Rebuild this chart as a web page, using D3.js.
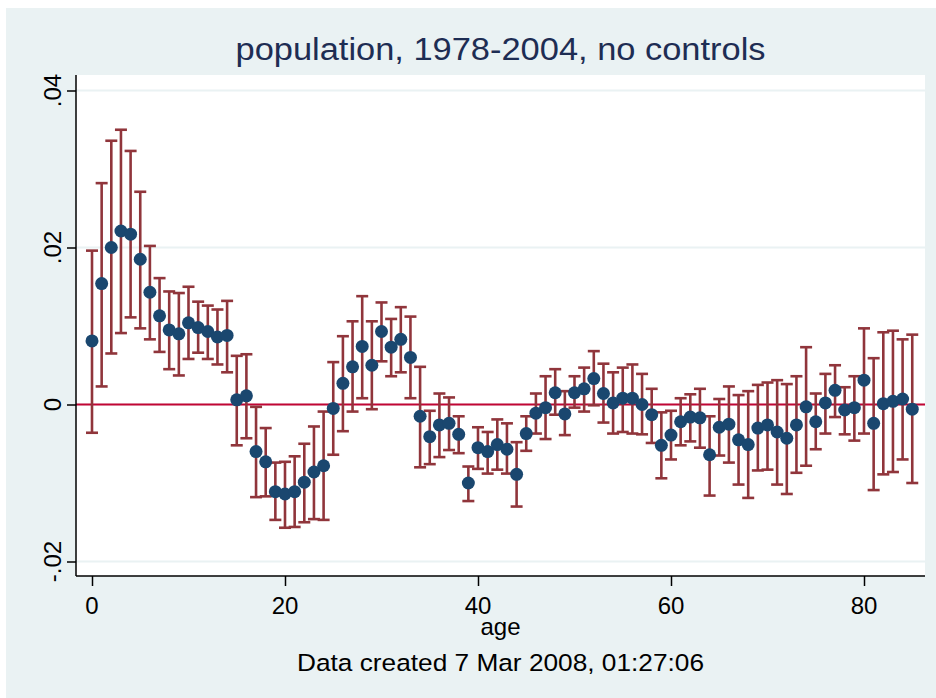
<!DOCTYPE html>
<html>
<head>
<meta charset="utf-8">
<script src="https://cdn.jsdelivr.net/npm/d3@7"></script>
<style>
  body { margin: 0; background: #ffffff; }
  text { font-family: "Liberation Sans", Arial, sans-serif; }
</style>
</head>
<body>
<svg id="chart" width="936" height="698"></svg>
<script>
// age 0..85
var ages = d3.range(0, 86);

// point estimates
var est = [
  0.0081, 0.0154, 0.0200, 0.0221, 0.0217, 0.0185, 0.0143, 0.0113, 0.0095, 0.0090,
  0.0104, 0.0098, 0.0093, 0.0086, 0.0088, 0.0006, 0.0011, -0.0060, -0.0073, -0.0111,
  -0.0114, -0.0111, -0.0099, -0.0086, -0.0078, -0.0005, 0.0027, 0.0048, 0.0074, 0.0050,
  0.0093, 0.0073, 0.0083, 0.0060, -0.0015, -0.0041, -0.0026, -0.0024, -0.0038, -0.0100,
  -0.0055, -0.0060, -0.0051, -0.0057, -0.0089, -0.0037, -0.0011, -0.0004, 0.0015, -0.0012,
  0.0015, 0.0020, 0.0033, 0.0014, 0.0002, 0.0008, 0.0008, 0.0000, -0.0013, -0.0052,
  -0.0039, -0.0022, -0.0016, -0.0017, -0.0064, -0.0029, -0.0025, -0.0045, -0.0051, -0.0030,
  -0.0026, -0.0035, -0.0043, -0.0026, -0.0003, -0.0022, 0.0002, 0.0018, -0.0007, -0.0004,
  0.0031, -0.0024, 0.0001, 0.0004, 0.0007, -0.0006
];

// upper confidence bound
var hi = [
  0.0196, 0.0282, 0.0336, 0.0350, 0.0323, 0.0271, 0.0202, 0.0161, 0.0144, 0.0142,
  0.0150, 0.0131, 0.0126, 0.0121, 0.0132, 0.0062, 0.0064, -0.0003, -0.0030, -0.0074,
  -0.0073, -0.0066, -0.0050, -0.0028, -0.0009, 0.0054, 0.0087, 0.0106, 0.0138, 0.0106,
  0.0130, 0.0109, 0.0124, 0.0112, 0.0048, -0.0008, 0.0014, 0.0009, -0.0015, -0.0079,
  -0.0029, -0.0035, -0.0019, -0.0024, -0.0048, -0.0015, 0.0014, 0.0036, 0.0045, 0.0017,
  0.0036, 0.0047, 0.0068, 0.0052, 0.0041, 0.0047, 0.0051, 0.0039, 0.0020, -0.0010,
  -0.0008, 0.0008, 0.0013, 0.0020, -0.0015, 0.0007, 0.0023, 0.0012, 0.0017, 0.0025,
  0.0028, 0.0031, 0.0026, 0.0036, 0.0073, 0.0014, 0.0039, 0.0050, 0.0022, 0.0036,
  0.0097, 0.0059, 0.0092, 0.0094, 0.0083, 0.0089
];

// lower confidence bound
var lo = [
  -0.0036, 0.0023, 0.0065, 0.0091, 0.0111, 0.0097, 0.0083, 0.0067, 0.0045, 0.0037,
  0.0058, 0.0066, 0.0058, 0.0051, 0.0041, -0.0052, -0.0043, -0.0118, -0.0117, -0.0147,
  -0.0157, -0.0156, -0.0150, -0.0146, -0.0147, -0.0064, -0.0034, -0.0009, 0.0008, -0.0006,
  0.0055, 0.0036, 0.0041, 0.0008, -0.0080, -0.0076, -0.0067, -0.0058, -0.0062, -0.0123,
  -0.0082, -0.0088, -0.0083, -0.0088, -0.0130, -0.0059, -0.0037, -0.0044, -0.0013, -0.0039,
  -0.0004, -0.0009, -0.0001, -0.0023, -0.0037, -0.0035, -0.0037, -0.0038, -0.0049, -0.0094,
  -0.0070, -0.0052, -0.0047, -0.0055, -0.0116, -0.0065, -0.0074, -0.0102, -0.0119, -0.0084,
  -0.0083, -0.0102, -0.0114, -0.0087, -0.0078, -0.0057, -0.0037, -0.0016, -0.0038, -0.0046,
  -0.0037, -0.0109, -0.0089, -0.0086, -0.0070, -0.0100
];

var xTicks = [0, 20, 40, 60, 80];
var yTicks = [-0.02, 0, 0.02, 0.04];
var yTickLabels = ["-.02", "0", ".02", ".04"];

var titleText = "population, 1978-2004, no controls";
var xTitle = "age";
var noteText = "Data created 7 Mar 2008, 01:27:06";

var svg = d3.select("#chart");

// plot region box
var plotLeft = 76, plotRight = 925, plotTop = 75, plotBottom = 576;
var midX = (plotLeft + plotRight) / 2;

var xScale = d3.scaleLinear().domain([0, 80]).range([92, 864]);
var yScale = d3.scaleLinear().domain([-0.02, 0.04]).range([561.5, 90.5]);

// stata-ish background
svg.append("rect")
  .attr("x", 6).attr("y", 8)
  .attr("width", 930).attr("height", 690)
  .attr("fill", "#eaf2f3");

svg.append("rect")
  .attr("x", plotLeft).attr("y", plotTop)
  .attr("width", plotRight - plotLeft).attr("height", plotBottom - plotTop)
  .attr("fill", "#ffffff");

// gridlines
svg.append("g").selectAll("line")
  .data(yTicks)
  .enter().append("line")
  .attr("x1", plotLeft).attr("x2", plotRight)
  .attr("y1", d => yScale(d)).attr("y2", d => yScale(d))
  .attr("stroke", "#eaf2f3")
  .attr("stroke-width", 2);

// zero reference line
svg.append("line")
  .attr("x1", plotLeft).attr("x2", plotRight)
  .attr("y1", yScale(0)).attr("y2", yScale(0))
  .attr("stroke", "#c10534")
  .attr("stroke-width", 2);

var points = ages.map((a, i) => ({ age: a, b: est[i], hi: hi[i], lo: lo[i] }));

// error bars
var capHalf = 6;
var bars = svg.append("g")
  .attr("stroke", "#90353b")
  .attr("stroke-width", 2.6)
  .attr("fill", "none");

points.forEach(function (d) {
  var x = xScale(d.age);
  bars.append("line")
    .attr("x1", x).attr("x2", x)
    .attr("y1", yScale(d.hi)).attr("y2", yScale(d.lo));
  bars.append("line")
    .attr("x1", x - capHalf).attr("x2", x + capHalf)
    .attr("y1", yScale(d.hi)).attr("y2", yScale(d.hi));
  bars.append("line")
    .attr("x1", x - capHalf).attr("x2", x + capHalf)
    .attr("y1", yScale(d.lo)).attr("y2", yScale(d.lo));
});

// point estimates
svg.append("g").selectAll("circle")
  .data(points)
  .enter().append("circle")
  .attr("cx", d => xScale(d.age))
  .attr("cy", d => yScale(d.b))
  .attr("r", 6.5)
  .attr("fill", "#1a476f");

// y axis
var leftAxis = d3.axisLeft(yScale)
  .tickValues(yTicks)
  .tickSize(9)
  .tickFormat(() => "");
var yAxisG = svg.append("g")
  .attr("transform", "translate(" + plotLeft + ",0)")
  .call(leftAxis);
yAxisG.select(".domain").attr("d", "M0," + plotTop + "V" + plotBottom);
yAxisG.selectAll("line, path").attr("stroke", "#000").attr("stroke-width", 1.5);

svg.append("g").selectAll("text")
  .data(yTicks)
  .enter().append("text")
  .attr("transform", (d) => "translate(61," + yScale(d) + ")rotate(-90)")
  .attr("text-anchor", "middle")
  .attr("font-size", 24)
  .attr("fill", "#000")
  .text((d, i) => yTickLabels[i]);

// x axis
var bottomAxis = d3.axisBottom(xScale)
  .tickValues(xTicks)
  .tickSize(10)
  .tickFormat(() => "");
var xAxisG = svg.append("g")
  .attr("transform", "translate(0," + plotBottom + ")")
  .call(bottomAxis);
xAxisG.select(".domain").attr("d", "M" + plotLeft + ",0H" + plotRight);
xAxisG.selectAll("line, path").attr("stroke", "#000").attr("stroke-width", 1.5);

svg.append("g").selectAll("text")
  .data(xTicks)
  .enter().append("text")
  .attr("x", d => xScale(d))
  .attr("y", 614)
  .attr("text-anchor", "middle")
  .attr("font-size", 24)
  .attr("fill", "#000")
  .text(d => d);

// axis title + note
svg.append("text")
  .attr("x", midX).attr("y", 635)
  .attr("text-anchor", "middle")
  .attr("font-size", 24)
  .attr("fill", "#000")
  .text(xTitle);

svg.append("text")
  .attr("x", midX).attr("y", 671)
  .attr("text-anchor", "middle")
  .attr("font-size", 24.5)
  .attr("textLength", 407)
  .attr("lengthAdjust", "spacingAndGlyphs")
  .attr("fill", "#000")
  .text(noteText);

// title
svg.append("text")
  .attr("x", midX).attr("y", 60)
  .attr("text-anchor", "middle")
  .attr("font-size", 31)
  .attr("textLength", 530)
  .attr("lengthAdjust", "spacingAndGlyphs")
  .attr("fill", "#1e2d53")
  .text(titleText);
</script>
</body>
</html>
